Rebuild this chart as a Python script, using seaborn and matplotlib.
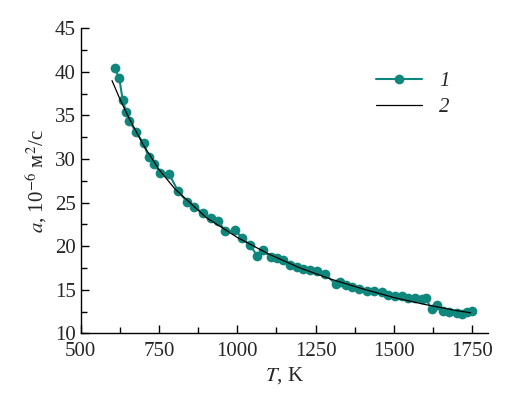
import matplotlib
matplotlib.use("Agg")
import matplotlib.pyplot as plt
import numpy as np
import pandas as pd
import seaborn as sns
from matplotlib.ticker import MultipleLocator

# Данные
T_exp = [608, 623, 634, 645, 655, 676, 701, 717, 735, 754, 782, 811, 839, 863,
         891, 915, 939, 962, 994, 1016, 1040, 1064, 1081, 1107, 1128, 1147,
         1168, 1189, 1211, 1232, 1253, 1280, 1315, 1328, 1347, 1365, 1388,
         1413, 1437, 1461, 1482, 1503, 1525, 1546, 1567, 1588, 1602, 1620,
         1636, 1655, 1676, 1702, 1716, 1732, 1748]
a_exp = [40.4, 39.3, 36.8, 35.4, 34.4, 33.1, 31.8, 30.2, 29.4, 28.4, 28.3,
         26.3, 25.1, 24.5, 23.8, 23.2, 22.9, 21.7, 21.8, 20.9, 20.1, 18.9,
         19.6, 18.7, 18.6, 18.4, 17.8, 17.6, 17.4, 17.3, 17.1, 16.8, 15.6,
         15.9, 15.5, 15.3, 15.1, 14.9, 14.85, 14.7, 14.4, 14.3, 14.3, 14.1,
         14.0, 13.9, 14.0, 12.75, 13.3, 12.6, 12.5, 12.3, 12.2, 12.4, 12.6]

T_fit = [600, 625, 650, 700, 750, 800, 900, 1000, 1100, 1200, 1300, 1400,
         1500, 1600, 1700, 1745]
a_fit = [39.0, 36.9, 35.0, 31.6, 28.8, 26.6, 23.3, 21.0, 19.1, 17.5, 16.2,
         15.1, 14.1, 13.3, 12.6, 12.35]

df_exp = pd.DataFrame({"T": T_exp, "a": a_exp})
df_fit = pd.DataFrame({"T": T_fit, "a": a_fit})

sns.set_theme(style="ticks")
plt.rcParams["font.family"] = ["Liberation Serif", "DejaVu Serif"]
plt.rcParams["mathtext.fontset"] = "stix"

fig = plt.figure(figsize=(5.12, 3.99), dpi=100)
ax = fig.add_axes([0.1576, 0.1647, 0.7954, 0.7643])

teal = "#10877c"
sns.lineplot(data=df_exp, x="T", y="a", ax=ax, color=teal, lw=1.5,
             marker="o", markersize=7, markeredgewidth=0, label="1",
             sort=False)
sns.lineplot(data=df_fit, x="T", y="a", ax=ax, color="black", lw=0.9,
             label="2", sort=False)

ax.set_xlim(500, 1800)
ax.set_ylim(10, 45)
ax.xaxis.set_major_locator(MultipleLocator(250))
ax.xaxis.set_minor_locator(MultipleLocator(125))
ax.yaxis.set_major_locator(MultipleLocator(5))
ax.yaxis.set_minor_locator(MultipleLocator(2.5))
ax.tick_params(which="both", direction="in", labelsize=15, color="black",
               width=1.0)
ax.tick_params(which="major", length=6)
ax.tick_params(which="minor", length=4)
ax.tick_params(axis="x", pad=6)
for s in ["top", "right"]:
    ax.spines[s].set_visible(False)
for s in ["left", "bottom"]:
    ax.spines[s].set_linewidth(1.0)
    ax.spines[s].set_color("black")

ax.set_xlabel("$\\mathit{T}$, K", fontsize=15, labelpad=3)
ax.set_ylabel("$\\mathit{a}$, 10$^{-6}$ м$^{2}$/с", fontsize=15, labelpad=4)

leg = ax.legend(loc="upper left", bbox_to_anchor=(0.68, 0.92), frameon=False,
                handlelength=2.2, labelspacing=0.3,
                prop={"family": "Liberation Serif", "style": "italic",
                      "size": 15})

fig.savefig("out.png", dpi=100)
